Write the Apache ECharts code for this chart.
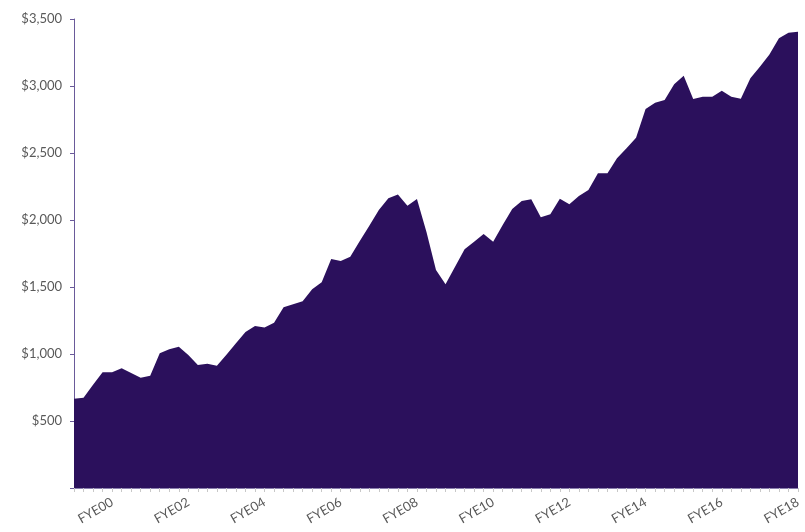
<!DOCTYPE html>
<html>
<head>
<meta charset="utf-8">
<script src="https://cdn.jsdelivr.net/npm/echarts@6/dist/echarts.min.js"></script>
<style>
html,body{margin:0;padding:0;background:#fff;}
#chart{width:805px;height:532px;}
</style>
</head>
<body>
<div id="chart"></div>
<script>
// Quarterly categories; only fiscal-year-end labels shown
const categoryLabels = [
  "", "", "", "", "FYE00", "", "", "", "", "", "", "", "FYE02", "", "", "", "", "", "", "",
  "FYE04", "", "", "", "", "", "", "", "FYE06", "", "", "", "", "", "", "", "FYE08", "", "", "",
  "", "", "", "", "FYE10", "", "", "", "", "", "", "", "FYE12", "", "", "", "", "", "", "",
  "FYE14", "", "", "", "", "", "", "", "FYE16", "", "", "", "", "", "", "", "FYE18"
];
const values = [
  666, 674, 770, 863, 863, 893, 858, 823, 838, 1005,
  1035, 1055, 993, 918, 928, 913, 995, 1080, 1165, 1209,
  1197, 1234, 1348, 1371, 1393, 1483, 1535, 1709, 1694, 1726,
  1843, 1957, 2075, 2162, 2190, 2107, 2157, 1910, 1627, 1520,
  1652, 1781, 1838, 1896, 1838, 1963, 2082, 2142, 2154, 2020,
  2043, 2158, 2117, 2179, 2224, 2348, 2348, 2460, 2535, 2614,
  2828, 2875, 2895, 3013, 3077, 2903, 2920, 2920, 2965, 2920,
  2905, 3057, 3144, 3236, 3356, 3398, 3405
];
const yMin = 0, yMax = 3500, yStep = 500;

const chart = echarts.init(document.getElementById('chart'), null, {renderer: 'canvas'});
chart.setOption({
  animation: false,
  backgroundColor: '#ffffff',
  grid: {left: 74, right: 7, top: 19, bottom: 44, containLabel: false},
  xAxis: {
    type: 'category',
    data: categoryLabels,
    boundaryGap: false,
    axisLine: {lineStyle: {color: '#8a7fae', width: 1}},
    axisTick: {show: true, interval: 0, length: 4, lineStyle: {color: '#c8c8c8'}},
    axisLabel: {interval: 0, rotate: 30, color: '#595959', fontFamily: 'Lato', fontSize: 13, margin: 13},
    splitLine: {show: false}
  },
  yAxis: {
    type: 'value',
    min: yMin, max: yMax, interval: yStep,
    axisLine: {show: true, lineStyle: {color: '#6a5a9a', width: 1}},
    axisTick: {show: true, length: 4, lineStyle: {color: '#6a5a9a'}},
    axisLabel: {
      color: '#595959', fontFamily: 'Lato', fontSize: 13, margin: 12,
      formatter: v => v === 0 ? '' : '$' + v.toLocaleString('en-US')
    },
    splitLine: {show: false}
  },
  series: [{
    type: 'line',
    data: values,
    symbol: 'none',
    smooth: false,
    lineStyle: {width: 0, color: '#2b105c'},
    areaStyle: {color: '#2b105c', opacity: 1},
    itemStyle: {color: '#2b105c'}
  }]
});
</script>
</body>
</html>
